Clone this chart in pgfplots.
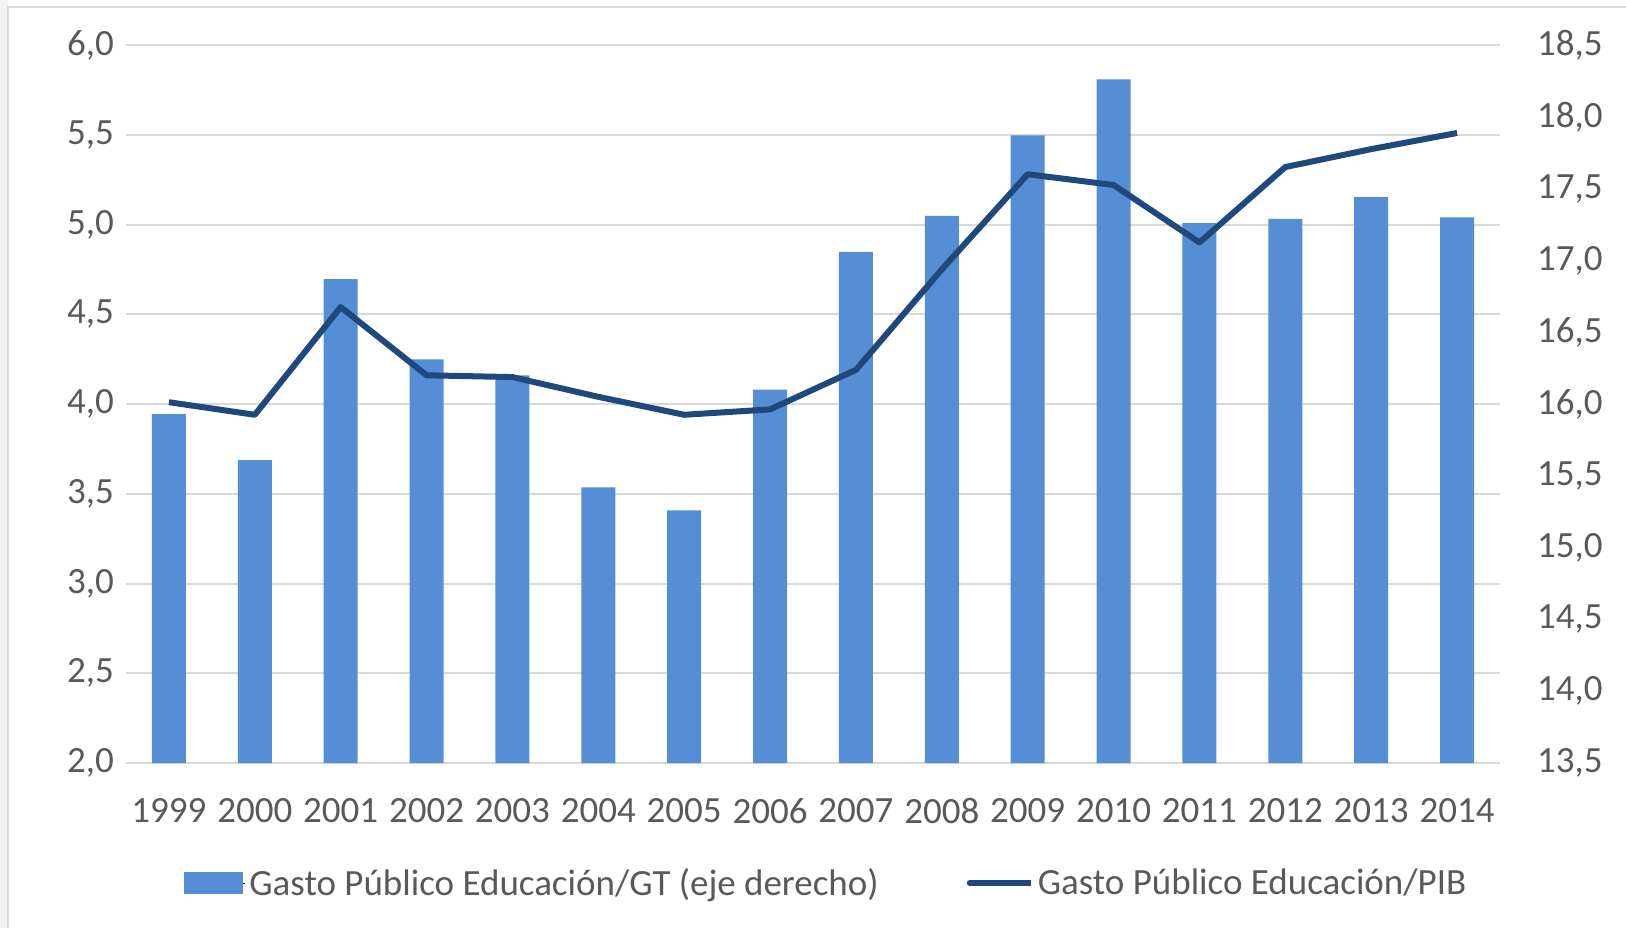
\documentclass[border=0pt]{standalone}
\usepackage{fontspec}
\setmainfont{Carlito}
\usepackage{pgfplots}
\usepackage{pgfplotstable}
\pgfplotsset{compat=1.18}
\definecolor{barcol}{HTML}{558ED5}
\definecolor{linecol}{HTML}{1F497D}
\definecolor{gridcol}{HTML}{D9D9D9}
\definecolor{txtcol}{HTML}{595959}

\pgfplotstableread{
x gt pib
0 15.93 4.01
1 15.61 3.94
2 16.87 4.54
3 16.31 4.16
4 16.20 4.15
5 15.42 4.04
6 15.26 3.94
7 16.10 3.97
8 17.06 4.19
9 17.31 4.75
10 17.87 5.28
11 18.26 5.22
12 17.26 4.90
13 17.29 5.32
14 17.44 5.42
15 17.30 5.51
}\datatable

\begin{document}
\begin{tikzpicture}
\useasboundingbox (-63pt,-82.5pt) rectangle (750pt,381.5pt);
\fill[black!5] (-63pt,-82.5pt) rectangle (-59pt,381.5pt);
\draw[black!15, line width=1pt] (-59pt,-82.5pt) -- (-59pt,378pt) -- (750pt,378pt);
\pgfplotsset{
  base/.style={
    scale only axis, width=687pt, height=359pt,
    at={(0,0)}, anchor=south west,
    xmin=-0.5, xmax=15.5,
    axis line style={draw=none},
    tick style={draw=none},
    ticklabel style={font=\fontsize{18.5}{22}\selectfont, text=txtcol},
    /pgf/number format/use comma,
    /pgf/number format/fixed,
    /pgf/number format/fixed zerofill,
    /pgf/number format/precision=1,
    /pgf/number format/assume math mode=true,
  },
}
% grid and left labels
\begin{axis}[base,
  ymin=2, ymax=6, ytick={2,2.5,3,3.5,4,4.5,5,5.5,6},
  ymajorgrids, grid style={gridcol, line width=1pt},
  xtick=\empty,
  yticklabel style={xshift=-2.5pt},
]
\addplot[draw=none] coordinates {(0,3)};
\end{axis}
% bars on right axis
\begin{axis}[base,
  ymin=13.5, ymax=18.5, ytick={13.5,14,14.5,15,15.5,16,16.5,17,17.5,18,18.5},
  yticklabel pos=right,
  yticklabel style={xshift=15pt},
  xtick=data,
  xticklabels={1999,2000,2001,2002,2003,2004,2005,2006,2007,2008,2009,2010,2011,2012,2013,2014},
  xticklabel style={yshift=-10pt},
  ybar, bar width=17pt, bar shift=0pt,
]
\addplot[fill=barcol, draw=none] table[x=x, y=gt]{\datatable};
\end{axis}
% line on left axis
\begin{axis}[base,
  ymin=2, ymax=6, ytick=\empty, xtick=\empty,
  legend columns=2,
  legend style={at={(0.5,0)}, anchor=center, yshift=-60pt, xshift=7pt, draw=none, fill=none,
    font=\fontsize{18.5}{22}\selectfont, text=txtcol,
    /tikz/every even column/.append style={column sep=42pt}},
]
\addlegendimage{legend image code/.code={\path (0pt,0pt) -- (30.5pt,0pt);\fill[barcol] (0pt,-5.2pt) rectangle (29pt,5.2pt);}}
\addlegendentry{Gasto Público Educación/GT (eje derecho)}
\addplot[linecol, line width=3pt, line join=round, mark=none,
  legend image code/.code={\path (0pt,0pt) -- (30.5pt,0pt);\draw[linecol, line width=3pt, line cap=round] (0pt,0pt) -- (29pt,0pt);}]
  table[x=x, y=pib]{\datatable};
\addlegendentry{Gasto Público Educación/PIB}
\end{axis}
\end{tikzpicture}
\end{document}
